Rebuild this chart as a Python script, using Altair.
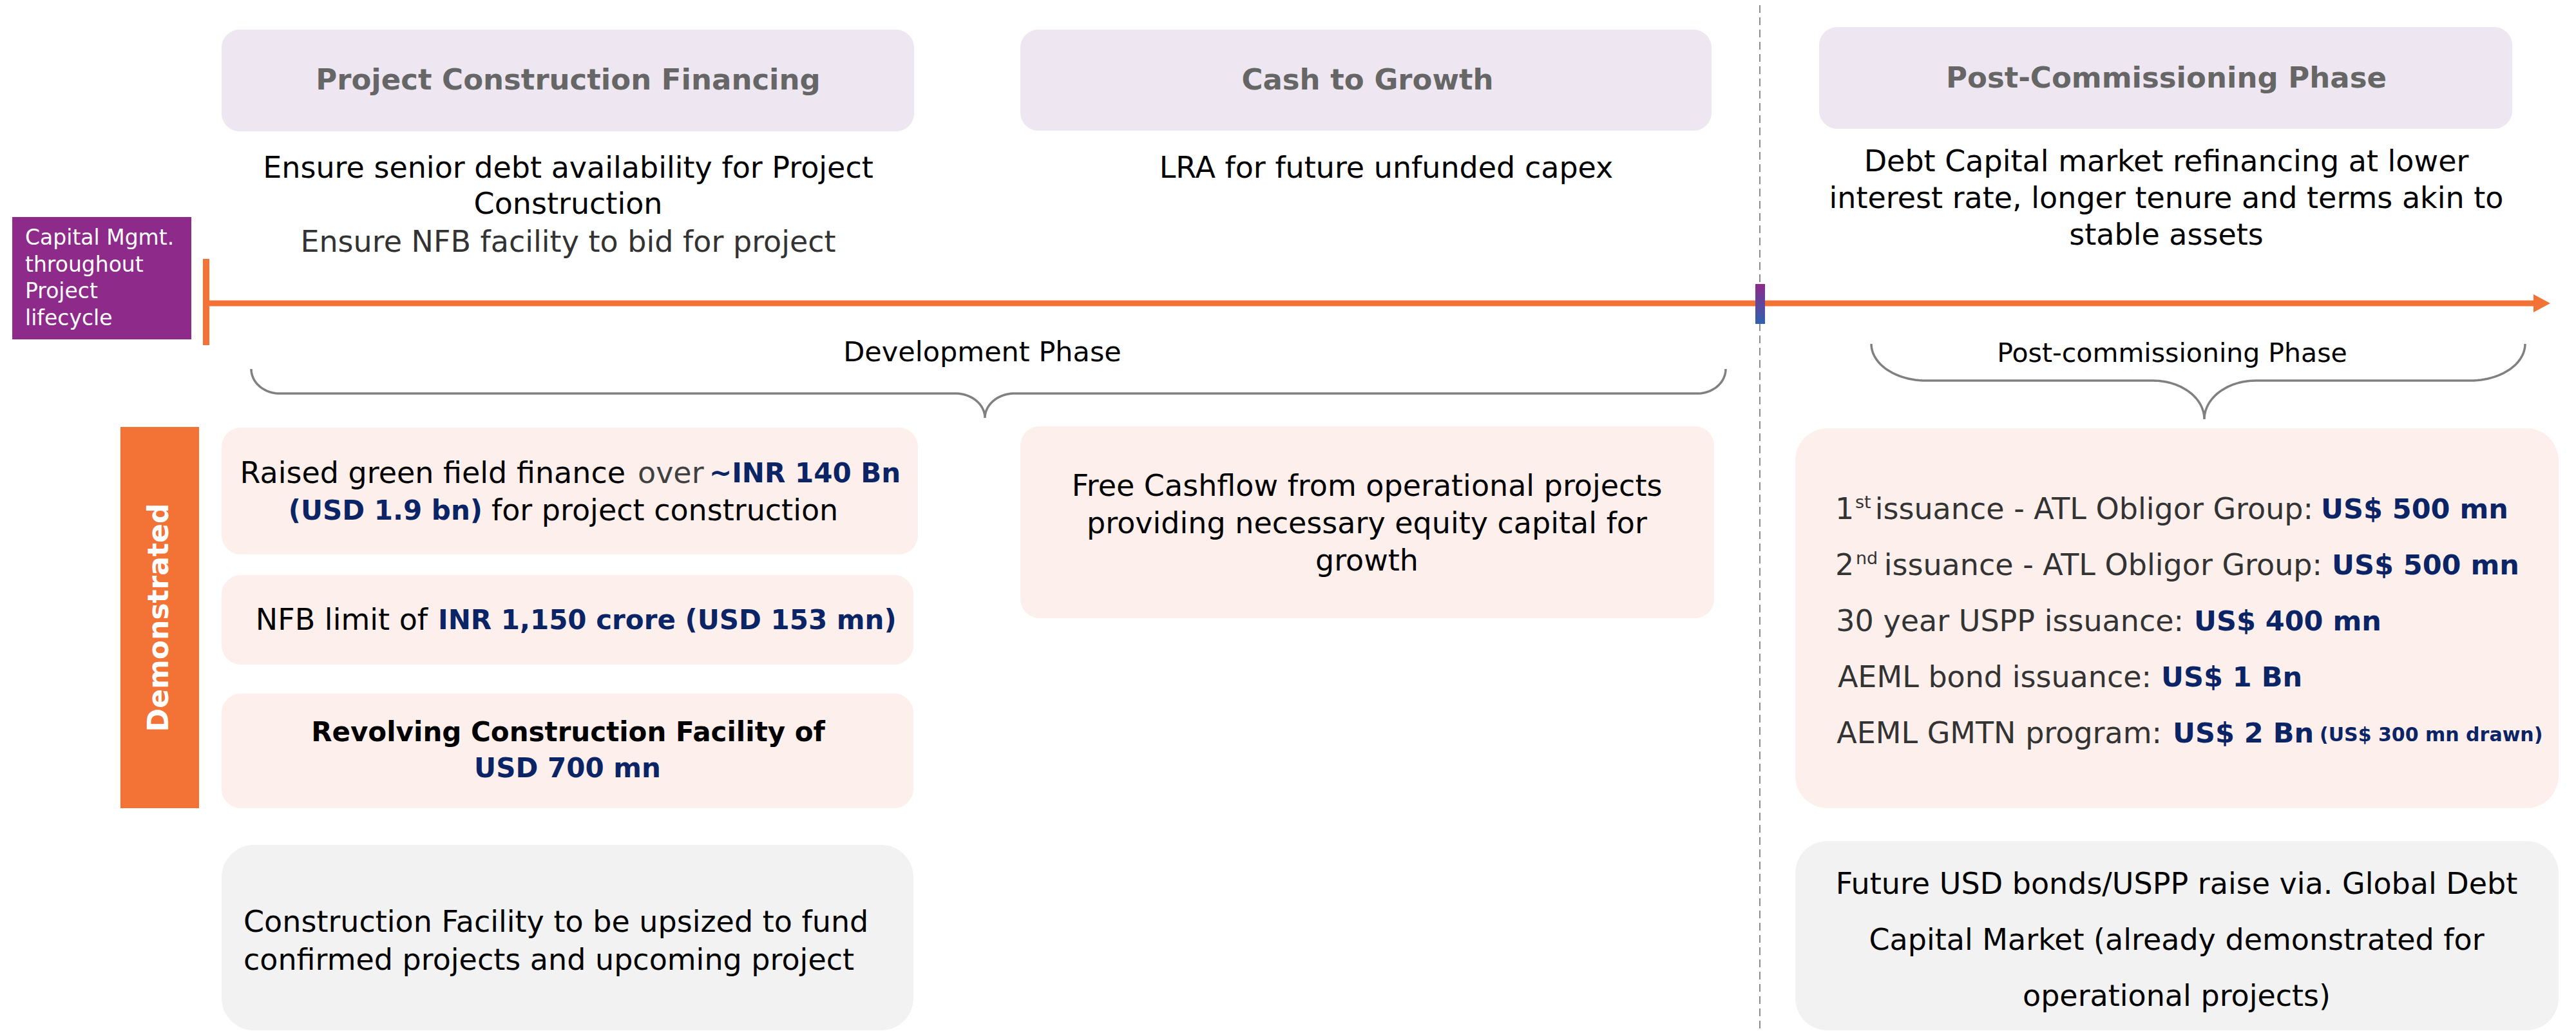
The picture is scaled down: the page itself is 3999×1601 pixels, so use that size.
import math
import altair as alt
import pandas as pd

# ---------------- content (values / texts) ----------------
header_titles = ["Project Construction Financing", "Cash to Growth", "Post-Commissioning Phase"]
pcf_notes = ["Ensure senior debt availability for Project", "Construction",
             "Ensure NFB facility to bid for project"]
ctg_notes = ["LRA for future unfunded capex"]
pcp_notes = ["Debt Capital market refinancing at  lower",
             "interest rate, longer tenure and terms akin to", "stable assets"]
side_label = ["Capital Mgmt.", "throughout", "Project", "lifecycle"]
phase_labels = ["Development Phase", "Post-commissioning Phase"]
demo_label = ["Demonstrated"]
greenfield_plain = ["Raised green field finance", "over", "for project construction"]
greenfield_bold = ["~INR 140 Bn", "(USD 1.9 bn)"]
nfb_plain = ["NFB limit of"]
nfb_bold = ["INR 1,150 crore (USD 153 mn)"]
rcf_lines = ["Revolving Construction Facility of", "USD 700 mn"]
upsize_lines = ["Construction Facility to be upsized to fund",
                "confirmed projects and upcoming project"]
fcf_lines = ["Free Cashflow from operational projects",
             "providing necessary equity capital for", "growth"]
issuance_lead = ["1", "2"]
issuance_sup = ["st", "nd"]
issuance_plain = ["issuance - ATL Obligor Group:", "issuance - ATL Obligor Group:",
                  "30 year USPP issuance:", "AEML bond issuance:", "AEML GMTN program:"]
issuance_amount = ["US$ 500 mn", "US$ 500 mn", "US$ 400 mn", "US$ 1 Bn", "US$ 2 Bn"]
gmtn_note = ["(US$ 300 mn drawn)"]
future_lines = ["Future USD bonds/USPP raise via. Global Debt",
                "Capital Market (already demonstrated for", "operational projects)"]

# ---------------- style ----------------
FONT = "DejaVu Sans"
NAVY = "#0B2465"
ORANGE = "#F37236"
PURPLE = "#8E2A8A"
LAVENDER = "#EEE7F2"
PEACH = "#FDF0EC"
GREY_BOX = "#F2F2F2"
HEAD_TXT = "#666666"
BODY = "#000000"
DARK = "#333333"
BRACE = "#808080"

# ---------------- layout (page pixel coordinates) ----------------
boxes = pd.DataFrame([
    # x, x2, y, y2, fill, radius-group
    (344, 1419, 46, 204, LAVENDER, "head"),
    (1584, 2657, 46, 203, LAVENDER, "head"),
    (2824, 3900, 42, 200, LAVENDER, "head"),
    (344, 1425, 664, 861, PEACH, "card"),
    (344, 1418, 893, 1032, PEACH, "card"),
    (344, 1418, 1077, 1255, PEACH, "card"),
    (1584, 2661, 662, 960, PEACH, "card"),
    (2787, 3972, 665, 1255, PEACH, "big"),
    (344, 1418, 1312, 1600, GREY_BOX, "big"),
    (2787, 3972, 1306, 1600, GREY_BOX, "big"),
    (19, 297, 337, 527, PURPLE, "flat"),
    (187, 309, 663, 1255, ORANGE, "flat"),
    (315, 325, 402, 536, ORANGE, "flat"),
    (320, 3936, 466.5, 475.5, ORANGE, "flat"),
], columns=["x", "x2", "y", "y2", "fill", "grp"])

marker = pd.DataFrame([{"x": 2725, "x2": 2740, "y": 441, "y2": 503}])
divider = pd.DataFrame([{"x": 2732, "y": 8, "y2": 1601}])
arrow = pd.DataFrame([{"x": 3946, "y": 471}])


def brace(bid, left, right, mid, top, bar, tip, corner, half, n=24):
    pts = []
    a, b = corner, bar - top
    for i in range(n + 1):
        t = math.radians(180 - 90 * i / n)
        pts.append((left + corner + a * math.cos(t), top + b * math.sin(t)))
    a, b = half, tip - bar
    for i in range(n + 1):
        t = math.radians(270 + 90 * i / n)
        pts.append((mid - half + a * math.cos(t), tip + b * math.sin(t)))
    for i in range(n + 1):
        t = math.radians(180 + 90 * i / n)
        pts.append((mid + half + a * math.cos(t), tip + b * math.sin(t)))
    a, b = corner, bar - top
    for i in range(n + 1):
        t = math.radians(90 - 90 * i / n)
        pts.append((right - corner + a * math.cos(t), top + b * math.sin(t)))
    return [{"id": bid, "i": k, "x": p[0], "y": p[1]} for k, p in enumerate(pts)]


braces = pd.DataFrame(
    brace("dev", 390, 2679, 1529, 573, 611, 649, 44, 46)
    + brace("post", 2905, 3920, 3422, 534, 591, 651, 85, 80)
)


def tx(texts, xs, ys, sizes, colors):
    n = len(texts)
    def rep(v):
        return v if isinstance(v, list) else [v] * n
    xs, ys, sizes, colors = rep(xs), rep(ys), rep(sizes), rep(colors)
    return [{"text": t, "x": x, "y": y, "size": s, "color": c}
            for t, x, y, s, c in zip(texts, xs, ys, sizes, colors)]


reg_center = pd.DataFrame(
    tx(pcf_notes, 882, [262, 318, 377], 46, [BODY, BODY, DARK])
    + tx(ctg_notes, 2152, 262, 46, BODY)
    + tx(pcp_notes, 3363, [252, 309, 366], 46, BODY)
    + tx(phase_labels, [1525, 3372], [548, 550], [43, 41], BODY)
    + tx(fcf_lines, 2122, [756, 814, 872], 46, BODY)
    + tx(future_lines, 3379, [1374, 1461, 1548], 46, BODY)
)
reg_left = pd.DataFrame(
    tx(side_label, 39, [370, 412, 453, 495], 33, "#FFFFFF")
    + tx(upsize_lines, 378, [1433, 1492], 46, BODY)
    + tx(greenfield_plain[1:], [990, 763], [736, 794], 46, ["#404040", BODY])
    + tx(issuance_lead, 2849, [792, 879], 46, DARK)
    + tx(issuance_sup, [2880, 2881], [781, 868], 27, DARK)
)
reg_right = pd.DataFrame(
    tx(greenfield_plain[:1], 971, 736, 46, BODY)
    + tx(nfb_plain, 664, 964, 46, BODY)
    + tx(issuance_plain, [3591, 3605, 3390, 3340, 3356],
         [792, 879, 966, 1053, 1140], 46, DARK)
)
bold_center = pd.DataFrame(
    tx(header_titles, [882, 2123, 3363], [125, 125, 122], 45, HEAD_TXT)
    + tx(rcf_lines, [882, 881], [1138, 1194], 42, [BODY, NAVY])
)
bold_left = pd.DataFrame(
    tx(greenfield_bold[:1], 1101, 736, 42, NAVY)
    + tx(nfb_bold, 680, 964, 42, NAVY)
    + tx(issuance_amount, [3603, 3620, 3406, 3355, 3373],
         [792, 879, 966, 1053, 1140], 43, NAVY)
    + tx(gmtn_note, 3601, 1142, 30, NAVY)
)
bold_right = pd.DataFrame(tx(greenfield_bold[1:], 749, 794, 42, NAVY))
rotated = pd.DataFrame(tx(demo_label, 248, 959, 44, "#FFFFFF"))

# ---------------- chart ----------------
XS = alt.Scale(domain=[8, 3991], nice=False, zero=False)
YS = alt.Scale(domain=[8, 1601], nice=False, zero=False, reverse=True)


def xe():
    return alt.X("x:Q", scale=XS, axis=None)


def ye():
    return alt.Y("y:Q", scale=YS, axis=None)


def rect_layer(grp, radius):
    return alt.Chart(boxes[boxes.grp == grp]).mark_rect(cornerRadius=radius).encode(
        x=xe(), x2="x2:Q", y=ye(), y2="y2:Q", color=alt.Color("fill:N", scale=None))


def text_layer(df, align, weight, angle=0):
    return alt.Chart(df).mark_text(align=align, baseline="middle", font=FONT,
                                   fontWeight=weight, angle=angle).encode(
        x=xe(), y=ye(), text="text:N",
        size=alt.Size("size:Q", scale=None),
        color=alt.Color("color:N", scale=None))


dash_layer = alt.Chart(divider).mark_rule(strokeDash=[12, 7], color="#8c8c8c", strokeWidth=2).encode(
    x=xe(), y=ye(), y2="y2:Q")

grad = alt.Gradient(gradient="linear",
                    stops=[alt.GradientStop(color="#8E2A8A", offset=0),
                           alt.GradientStop(color="#2E62AF", offset=1)],
                    x1=0, x2=0, y1=0, y2=1)
marker_layer = alt.Chart(marker).mark_rect(color=grad).encode(x=xe(), x2="x2:Q", y=ye(), y2="y2:Q")

arrow_layer = alt.Chart(arrow).mark_point(shape="M -1 -1.08 L 1 0 L -1 1.08 Z", filled=True,
                                          size=676, color=ORANGE, opacity=1).encode(x=xe(), y=ye())

brace_layer = alt.Chart(braces).mark_line(color=BRACE, strokeWidth=3.5).encode(
    x=xe(), y=ye(), detail="id:N", order="i:Q")

chart = alt.layer(
    dash_layer,
    rect_layer("head", 28),
    rect_layer("card", 30),
    rect_layer("big", 50),
    rect_layer("flat", 0),
    marker_layer,
    arrow_layer,
    brace_layer,
    text_layer(reg_center, "center", "normal"),
    text_layer(reg_left, "left", "normal"),
    text_layer(reg_right, "right", "normal"),
    text_layer(bold_center, "center", "bold"),
    text_layer(bold_left, "left", "bold"),
    text_layer(bold_right, "right", "bold"),
    text_layer(rotated, "center", "bold", angle=270),
).properties(
    width=3983, height=1593, padding=0,
    autosize=alt.AutoSizeParams(type="none"),
    background="#FFFFFF",
).configure_view(stroke=None)

chart.save("out.html", embed_options={"renderer": "svg", "actions": False})
